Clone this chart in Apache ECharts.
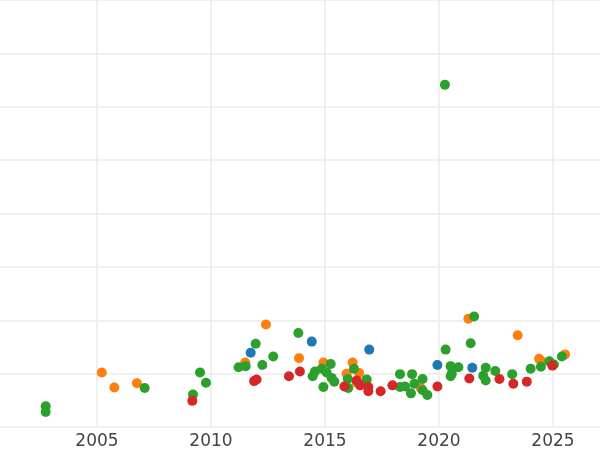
<!DOCTYPE html>
<html>
<head>
<meta charset="utf-8">
<script src="https://cdn.jsdelivr.net/npm/echarts@6/dist/echarts.min.js"></script>
<style>html,body{margin:0;padding:0;background:#fff;overflow:hidden}#chart{width:684px;height:450px;margin-left:-17px}</style>
</head>
<body>
<div id="chart"></div>
<script>
// points as [year, value]
const bluePts = [[2011.74,0.39],[2014.42,0.60],[2016.94,0.45],[2019.93,0.16],[2021.46,0.11]];
const orangePts = [[2005.21,0.02],[2005.76,-0.26],[2006.75,-0.18],[2012.41,0.92],[2011.50,0.21],[2013.86,0.29],
  [2014.93,0.21],[2015.95,0.0],[2016.21,0.21],[2016.50,0.01],[2016.39,-0.17],[2019.20,-0.27],[2021.29,1.03],
  [2023.45,0.72],[2024.39,0.28],[2024.50,0.23],[2025.53,0.36]];
const greenPts = [[2002.75,-0.61],[2002.75,-0.72],[2007.09,-0.27],[2009.52,0.02],[2009.78,-0.17],[2009.21,-0.39],
  [2013.83,0.76],[2011.96,0.56],[2012.73,0.32],[2011.21,0.12],[2011.52,0.14],[2012.25,0.16],[2014.46,-0.05],
  [2014.56,0.04],[2014.86,0.09],[2015.07,0.02],[2015.25,0.18],[2014.93,-0.25],[2015.29,-0.08],[2015.41,-0.15],
  [2016.0,-0.10],[2016.02,-0.27],[2016.27,0.09],[2016.83,-0.11],[2018.29,-0.01],[2018.29,-0.25],[2018.51,-0.24],
  [2018.82,-0.01],[2018.92,-0.19],[2018.77,-0.37],[2019.28,-0.10],[2019.28,-0.31],[2019.49,-0.40],[2020.29,0.45],
  [2020.51,0.14],[2020.85,0.12],[2020.51,-0.05],[2020.56,0.0],[2021.54,1.07],[2021.39,0.57],[2022.05,0.11],
  [2021.94,-0.04],[2022.05,-0.13],[2022.47,0.05],[2023.21,-0.01],[2024.02,0.09],[2024.47,0.13],[2024.84,0.23],
  [2025.04,0.17],[2025.39,0.32],[2020.26,5.41]];
const redPts = [[2009.18,-0.51],[2011.89,-0.14],[2012.0,-0.11],[2013.42,-0.05],[2013.90,0.04],[2015.85,-0.24],
  [2016.39,-0.13],[2016.54,-0.22],[2016.90,-0.25],[2016.90,-0.33],[2017.44,-0.33],[2017.96,-0.22],[2019.93,-0.24],
  [2021.33,-0.09],[2022.65,-0.10],[2023.26,-0.19],[2023.85,-0.15],[2024.97,0.15]];

const chart = echarts.init(document.getElementById('chart'));

function ser(data, color) {
  return {type: 'scatter', data: data, symbolSize: 10, itemStyle: {color: color, opacity: 1}};
}

chart.setOption({
  animation: false,
  grid: {left: 0, right: 0, top: 0, bottom: 23},
  xAxis: {
    type: 'value', min: 2000, max: 2030, interval: 5,
    axisLine: {show: false}, axisTick: {show: false},
    axisLabel: {color: '#444', fontSize: 17, margin: 6, fontFamily: 'DejaVu Sans',
      showMinLabel: false, showMaxLabel: false, formatter: v => String(v)},
    splitLine: {lineStyle: {color: '#ebebeb', width: 1.5}}
  },
  yAxis: {
    type: 'value', min: -1, max: 7, interval: 1,
    axisLine: {show: false}, axisTick: {show: false}, axisLabel: {show: false},
    splitLine: {lineStyle: {color: '#ebebeb', width: 1.5}}
  },
  series: [
    ser(bluePts, '#1f77b4'),
    ser(orangePts, '#ff7f0e'),
    ser(greenPts, '#2ca02c'),
    ser(redPts, '#d62728')
  ]
});
</script>
</body>
</html>
